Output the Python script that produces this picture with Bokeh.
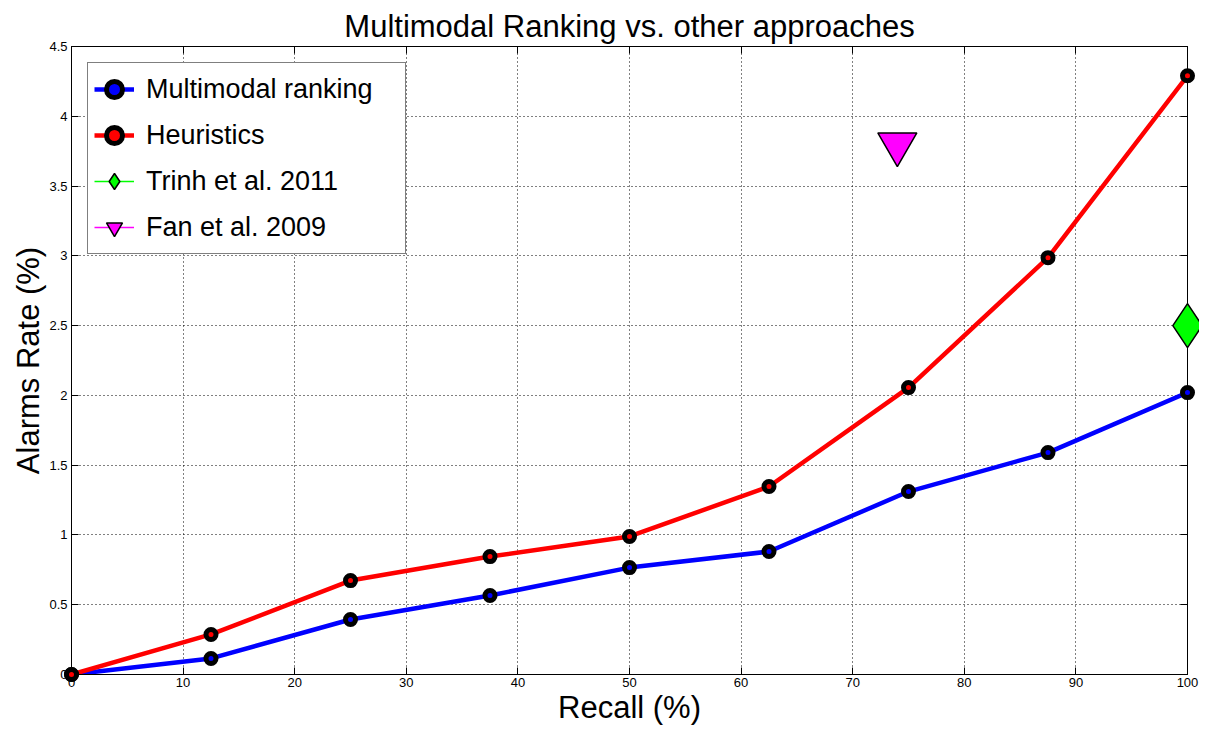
from bokeh.plotting import figure
from bokeh.models import Range1d, FixedTicker, LinearAxis, Legend, LegendItem
from bokeh.embed import file_html
from bokeh.resources import INLINE

recall = [0, 12.5, 25, 37.5, 50, 62.5, 75, 87.5, 100]
multimodal = [0, 0.115, 0.394, 0.566, 0.766, 0.881, 1.311, 1.59, 2.02]
heuristics = [0, 0.287, 0.673, 0.845, 0.989, 1.347, 2.056, 2.987, 4.29]
trinh_x = [100]
trinh_y = [2.5]
fan_x = [74]
fan_y = [3.8]

x_ticks = [0, 10, 20, 30, 40, 50, 60, 70, 80, 90, 100]
y_ticks = [0, 0.5, 1, 1.5, 2, 2.5, 3, 3.5, 4, 4.5]
y_tick_labels = ["0", "0.5", "1", "1.5", "2", "2.5", "3", "3.5", "4", "4.5"]

FONT = "Liberation Sans"

p = figure(width=1199, height=727, output_backend="svg", toolbar_location=None,
           x_range=Range1d(0, 100), y_range=Range1d(0, 4.5),
           min_border_left=71, min_border_right=12, min_border_top=46, min_border_bottom=53,
           title="Multimodal Ranking vs. other approaches")
p.background_fill_color = "white"
p.border_fill_color = "white"
p.outline_line_color = "black"
p.outline_line_width = 1

p.title.align = "center"
p.title.text_font = FONT
p.title.text_font_size = "31px"
p.title.text_font_style = "normal"
p.title.text_color = "black"
p.title.standoff = 6

def style_axis(ax, labels=True):
    ax.major_tick_in = 7
    ax.major_tick_out = 0
    ax.minor_tick_line_color = None
    ax.axis_line_color = "black"
    ax.major_tick_line_color = "black"
    ax.major_label_text_font = FONT
    if labels:
        ax.major_label_text_font_size = "13px"
        ax.major_label_text_color = "black"
    else:
        ax.major_label_text_font_size = "1px"
        ax.major_label_text_color = None
        ax.major_label_standoff = 0

p.xaxis.ticker = FixedTicker(ticks=x_ticks)
p.yaxis.ticker = FixedTicker(ticks=y_ticks)
p.yaxis.major_label_overrides = {t: l for t, l in zip(y_ticks, y_tick_labels)}
style_axis(p.xaxis[0])
style_axis(p.yaxis[0])
p.xaxis.major_label_standoff = 3
p.yaxis.major_label_standoff = 4
p.xaxis.axis_label = "Recall (%)"
p.yaxis.axis_label = "Alarms Rate (%)"
for ax in (p.xaxis[0], p.yaxis[0]):
    ax.axis_label_text_font = FONT
    ax.axis_label_text_font_size = "31px"
    ax.axis_label_text_font_style = "normal"
    ax.axis_label_text_color = "black"
    ax.axis_label_standoff = 0

top = LinearAxis(ticker=FixedTicker(ticks=x_ticks))
style_axis(top, labels=False)
p.add_layout(top, "above")
right = LinearAxis(ticker=FixedTicker(ticks=y_ticks))
style_axis(right, labels=False)
p.add_layout(right, "right")

p.grid.grid_line_color = "black"
p.grid.grid_line_dash = "1 3"
p.grid.grid_line_width = 1
p.grid.grid_line_alpha = 1

l1 = p.line(recall, multimodal, line_color="blue", line_width=4.5)
s1 = p.scatter(recall, multimodal, marker="circle", size=10, fill_color="blue",
               line_color="black", line_width=5, level="overlay")
l2 = p.line(recall, heuristics, line_color="red", line_width=4.5)
s2 = p.scatter(recall, heuristics, marker="circle", size=10, fill_color="red",
               line_color="black", line_width=5, level="overlay")
l3 = p.line(trinh_x, trinh_y, line_color="#00ff00", line_width=1.5)
s3 = p.scatter(trinh_x, trinh_y, marker="diamond", size=44, fill_color="#00ff00",
               line_color="black", line_width=1.5, level="overlay")
l4 = p.line(fan_x, fan_y, line_color="magenta", line_width=1.5)
s4 = p.scatter(fan_x, fan_y, marker="inverted_triangle", size=39, fill_color="magenta",
               line_color="black", line_width=1.5, level="overlay")

legend = Legend(items=[
    LegendItem(label="Multimodal ranking", renderers=[l1, s1]),
    LegendItem(label="Heuristics", renderers=[l2, s2]),
    LegendItem(label="Trinh et al. 2011", renderers=[l3, s3]),
    LegendItem(label="Fan et al. 2009", renderers=[l4, s4]),
], location="top_left")
legend.label_text_font = FONT
legend.label_text_font_size = "27px"
legend.label_text_color = "black"
legend.glyph_width = 40
legend.glyph_height = 40
legend.label_height = 40
legend.label_width = 253
legend.spacing = 6
legend.padding = 6
legend.margin = 16
legend.label_standoff = 12
legend.border_line_color = "black"
legend.border_line_width = 1
legend.background_fill_color = "white"
legend.background_fill_alpha = 1
p.add_layout(legend)

open("out.html", "w").write(file_html(p, INLINE))
